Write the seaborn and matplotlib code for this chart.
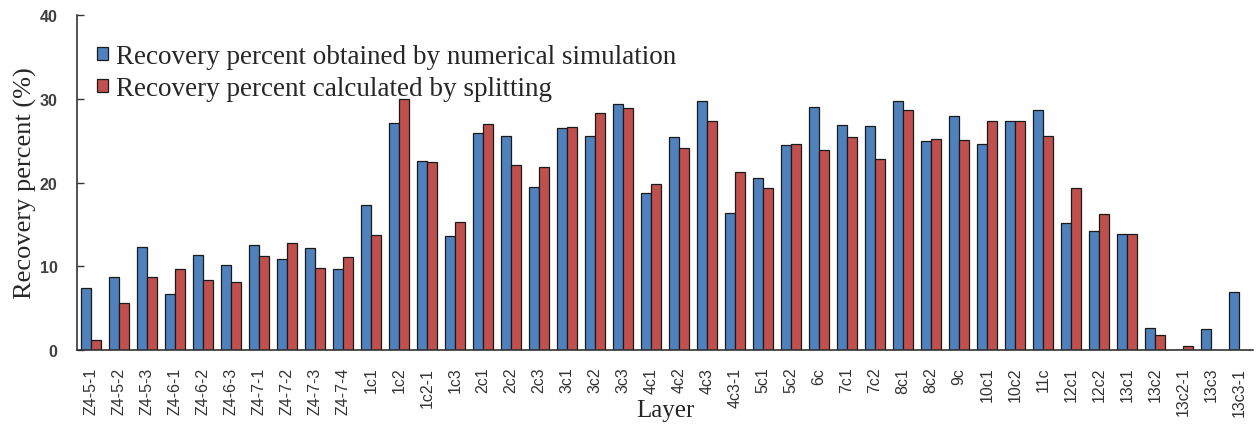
import pandas as pd
import seaborn as sns
import matplotlib.pyplot as plt
from matplotlib.ticker import MultipleLocator

# dados
layers = ['Z4-5-1', 'Z4-5-2', 'Z4-5-3', 'Z4-6-1', 'Z4-6-2', 'Z4-6-3', 'Z4-7-1', 'Z4-7-2',
          'Z4-7-3', 'Z4-7-4', '1c1', '1c2', '1c2-1', '1c3', '2c1', '2c2', '2c3', '3c1', '3c2',
          '3c3', '4c1', '4c2', '4c3', '4c3-1', '5c1', '5c2', '6c', '7c1', '7c2', '8c1', '8c2',
          '9c', '10c1', '10c2', '11c', '12c1', '12c2', '13c1', '13c2', '13c2-1', '13c3', '13c3-1']

simulation = [7.4, 8.7, 12.3, 6.7, 11.3, 10.2, 12.5, 10.9, 12.2, 9.7, 17.3, 27.1, 22.6, 13.6,
              25.9, 25.6, 19.5, 26.5, 25.6, 29.4, 18.8, 25.4, 29.7, 16.3, 20.5, 24.5, 29.0,
              26.9, 26.8, 29.7, 25.0, 28.0, 24.6, 27.3, 28.7, 15.2, 14.2, 13.8, 2.6, 0.0, 2.5, 6.9]

splitting = [1.2, 5.6, 8.7, 9.7, 8.4, 8.1, 11.2, 12.8, 9.8, 11.1, 13.7, 30.0, 22.4, 15.3,
             27.0, 22.1, 21.8, 26.6, 28.3, 28.9, 19.8, 24.1, 27.3, 21.2, 19.3, 24.6, 23.9,
             25.4, 22.8, 28.6, 25.2, 25.1, 27.3, 27.3, 25.6, 19.4, 16.2, 13.8, 1.8, 0.5, 0.0, 0.0]

series_names = ['Recovery percent obtained by numerical simulation',
                'Recovery percent calculated by splitting']

df = pd.DataFrame({
    'Layer': layers * 2,
    'Recovery': simulation + splitting,
    'Method': [series_names[0]] * len(layers) + [series_names[1]] * len(layers),
})

sns.set_style('white')

fig, ax = plt.subplots(figsize=(12.56, 4.27), dpi=100)
fig.subplots_adjust(left=0.0613, right=0.9976, bottom=0.178, top=0.9625)

sns.barplot(data=df, x='Layer', y='Recovery', hue='Method', order=layers,
            palette=['#4F81BD', '#C0504D'], width=0.7, edgecolor='#1a1a1a',
            linewidth=0.9, saturation=1, ax=ax)

ax.set_xlim(-0.5, len(layers) - 0.5)
ax.set_ylim(0, 40)
ax.yaxis.set_major_locator(MultipleLocator(10))

# eixos estilo excel
for s in ['top', 'right']:
    ax.spines[s].set_visible(False)
for s in ['left', 'bottom']:
    ax.spines[s].set_color('#333333')
    ax.spines[s].set_linewidth(1.2)

ax.set_xticks(range(len(layers)))
ax.set_xticklabels(layers, rotation=90, fontsize=11.5, color='#333333',
                   family='Liberation Sans')
ax.set_xticks([i + 0.5 for i in range(len(layers))], minor=True)
ax.tick_params(axis='x', which='major', length=0, pad=12)
ax.tick_params(axis='x', which='minor', direction='in', length=4, width=1, color='#333333')
ax.tick_params(axis='y', direction='in', length=5, width=1, color='#333333', pad=14,
               left=True)
for t in ax.get_yticklabels():
    t.set_fontsize(11.5)
    t.set_fontweight('bold')
    t.set_color('#404040')
    t.set_family('Liberation Sans')

ax.set_xlabel('Layer', family='Liberation Serif', fontsize=18, va='center')
ax.xaxis.set_label_coords(0.5, -0.178)
ax.set_ylabel('Recovery percent (%)', family='Liberation Serif', fontsize=19, labelpad=2)

ax.legend(loc='upper left', bbox_to_anchor=(0.008, 0.945), frameon=False,
          prop={'family': 'Liberation Serif', 'size': 19.5},
          handlelength=0.4, handleheight=0.4, handletextpad=0.3,
          labelspacing=0.25, borderaxespad=0)

plt.savefig('out.png', dpi=100)
